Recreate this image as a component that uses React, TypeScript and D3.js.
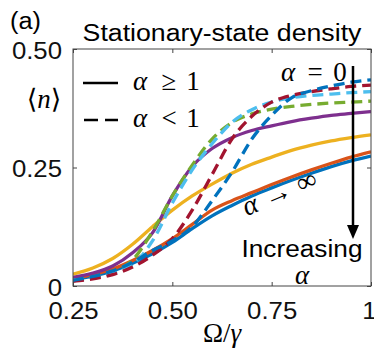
import React, { useEffect, useRef } from "react";
import * as d3 from "d3";

// Omega / gamma sample points
const omega = [0.25, 0.3, 0.35, 0.4, 0.45, 0.5, 0.55, 0.6, 0.65, 0.7, 0.75, 0.8, 0.85, 0.9, 0.95, 1.0];

// alpha >= 1 (solid)
const solidBlue = [0.014, 0.021, 0.032, 0.048, 0.068, 0.092, 0.121, 0.148, 0.17, 0.19, 0.207, 0.223, 0.238, 0.252, 0.264, 0.274];
const solidOrange = [0.016, 0.024, 0.036, 0.054, 0.075, 0.1, 0.13, 0.16, 0.18, 0.197, 0.214, 0.23, 0.245, 0.259, 0.272, 0.283];
const solidYellow = [0.025, 0.038, 0.058, 0.088, 0.125, 0.16, 0.19, 0.215, 0.238, 0.257, 0.272, 0.286, 0.297, 0.306, 0.313, 0.319];
const solidPurple = [0.018, 0.027, 0.042, 0.07, 0.112, 0.19, 0.252, 0.29, 0.313, 0.328, 0.338, 0.347, 0.354, 0.36, 0.364, 0.368];

// alpha < 1 (dashed)
const dashGreen = [0.012, 0.018, 0.03, 0.055, 0.115, 0.19, 0.255, 0.31, 0.345, 0.363, 0.373, 0.379, 0.383, 0.386, 0.388, 0.39];
const dashCyan = [0.012, 0.017, 0.027, 0.045, 0.095, 0.175, 0.245, 0.3, 0.345, 0.372, 0.388, 0.397, 0.402, 0.405, 0.408, 0.41];
const dashRed = [0.01, 0.015, 0.024, 0.04, 0.065, 0.1, 0.16, 0.235, 0.31, 0.358, 0.388, 0.402, 0.41, 0.416, 0.421, 0.424];
const dashBlue = [0.012, 0.02, 0.032, 0.05, 0.075, 0.095, 0.125, 0.18, 0.24, 0.31, 0.36, 0.397, 0.412, 0.422, 0.43, 0.435];

const xTicks = [0.25, 0.5, 0.75, 1];
const xTickLabels = ["0.25", "0.50", "0.75", "1"];
const yTicks = [0, 0.25, 0.5];
const yTickLabels = ["0", "0.25", "0.50"];

const App = () => {
  const ref = useRef<SVGSVGElement>(null);

  useEffect(() => {
    const width = 374;
    const height = 348;
    const marginLeft = 73;
    const marginRight = 3;
    const marginTop = 49;
    const marginBottom = 62;
    const sans = "'Liberation Sans', Arial, sans-serif";
    const serif = "'Liberation Serif', 'DejaVu Serif', serif";

    const svg = d3.select(ref.current);
    svg.selectAll("*").remove();

    const x = d3.scaleLinear().domain([0.25, 1]).range([marginLeft, width - marginRight]);
    const y = d3.scaleLinear().domain([0, 0.5]).range([height - marginBottom, marginTop]);

    // stretch text horizontally, the source font is wider than Arial
    const stretch = (sel: any, k: number) =>
      sel.each(function (this: SVGTextElement) {
        const w = this.getComputedTextLength();
        d3.select(this).attr("textLength", w * k).attr("lengthAdjust", "spacingAndGlyphs");
      });

    svg.append("defs")
      .append("clipPath")
      .attr("id", "plotClip")
      .append("rect")
      .attr("x", marginLeft)
      .attr("y", marginTop)
      .attr("width", width - marginLeft - marginRight)
      .attr("height", height - marginTop - marginBottom);

    const series = [
      { values: solidBlue, color: "#0072BD", dashed: false },
      { values: solidOrange, color: "#D95319", dashed: false },
      { values: solidYellow, color: "#EDB120", dashed: false },
      { values: solidPurple, color: "#7E2F8E", dashed: false },
      { values: dashGreen, color: "#77AC30", dashed: true },
      { values: dashCyan, color: "#4DBEEE", dashed: true },
      { values: dashRed, color: "#A2142F", dashed: true },
      { values: dashBlue, color: "#0072BD", dashed: true },
    ];

    const line = d3
      .line<number>()
      .x((_, i) => x(omega[i]))
      .y((d) => y(d))
      .curve(d3.curveMonotoneX);

    svg
      .append("g")
      .attr("clip-path", "url(#plotClip)")
      .selectAll("path")
      .data(series)
      .join("path")
      .attr("d", (d) => line(d.values))
      .attr("fill", "none")
      .attr("stroke", (d) => d.color)
      .attr("stroke-width", 3.3)
      .attr("stroke-dasharray", (d) => (d.dashed ? "11 6" : null));

    // axes box
    svg
      .append("rect")
      .attr("x", marginLeft)
      .attr("y", marginTop)
      .attr("width", width - marginLeft - marginRight)
      .attr("height", height - marginTop - marginBottom)
      .attr("fill", "none")
      .attr("stroke", "#444")
      .attr("stroke-width", 1);

    const xAxis = svg
      .append("g")
      .attr("transform", `translate(0,${height - marginBottom})`)
      .call(
        d3
          .axisBottom(x)
          .tickValues(xTicks)
          .tickFormat((_, i) => xTickLabels[i])
          .tickSizeInner(-4)
          .tickSizeOuter(0)
          .tickPadding(17)
      );
    xAxis.select(".domain").remove();
    xAxis.selectAll("line").attr("stroke", "#444");
    xAxis.selectAll("text").attr("font-family", sans).attr("font-size", 23).attr("fill", "#111").call(stretch, 1.12);
    // last label sits against the right edge
    xAxis
      .selectAll("text")
      .filter((d) => d === 1)
      .attr("x", -2);

    svg
      .append("g")
      .attr("transform", `translate(0,${marginTop})`)
      .call(d3.axisTop(x).tickValues(xTicks).tickFormat(() => "").tickSizeInner(-4).tickSizeOuter(0))
      .call((g) => g.select(".domain").remove())
      .selectAll("line")
      .attr("stroke", "#444");

    const yAxis = svg
      .append("g")
      .attr("transform", `translate(${marginLeft},0)`)
      .call(
        d3
          .axisLeft(y)
          .tickValues(yTicks)
          .tickFormat((_, i) => yTickLabels[i])
          .tickSizeInner(-4)
          .tickSizeOuter(0)
          .tickPadding(11)
      );
    yAxis.select(".domain").remove();
    yAxis.selectAll("line").attr("stroke", "#444");
    yAxis.selectAll("text").attr("font-family", sans).attr("font-size", 23).attr("fill", "#111").attr("dy", "0.4em").call(stretch, 1.12);

    svg
      .append("g")
      .attr("transform", `translate(${width - marginRight},0)`)
      .call(d3.axisRight(y).tickValues(yTicks).tickFormat(() => "").tickSizeInner(-4).tickSizeOuter(0))
      .call((g) => g.select(".domain").remove())
      .selectAll("line")
      .attr("stroke", "#444");

    // titles
    svg
      .append("text")
      .attr("x", 10)
      .attr("y", 29)
      .attr("font-family", sans)
      .attr("font-size", 23)
      .text("(a)")
      .call(stretch, 1.1);

    svg
      .append("text")
      .attr("x", 222)
      .attr("y", 41)
      .attr("text-anchor", "middle")
      .attr("font-family", sans)
      .attr("font-size", 23)
      .text("Stationary-state density")
      .call(stretch, 1.16);

    // y label <n>
    const yl = svg
      .append("text")
      .attr("x", 44)
      .attr("y", 108)
      .attr("text-anchor", "middle")
      .attr("font-family", serif)
      .attr("font-size", 27);
    yl.append("tspan").text("\u27E8");
    yl.append("tspan").attr("font-style", "italic").text("n");
    yl.append("tspan").text("\u27E9");

    // x label Omega/gamma
    const xl = svg
      .append("text")
      .attr("x", 222)
      .attr("y", 342)
      .attr("text-anchor", "middle")
      .attr("font-family", serif)
      .attr("font-size", 27);
    xl.append("tspan").text("\u03A9/");
    xl.append("tspan").attr("font-style", "italic").text("\u03B3");

    // math pieces placed by centre
    const math = (cx: number, by: number, s: string, italic: boolean) =>
      svg
        .append("text")
        .attr("x", cx)
        .attr("y", by)
        .attr("text-anchor", "middle")
        .attr("font-family", serif)
        .attr("font-size", 27)
        .attr("font-style", italic ? "italic" : "normal")
        .text(s);

    // legend
    svg.append("line").attr("x1", 83).attr("x2", 118).attr("y1", 83).attr("y2", 83).attr("stroke", "#000").attr("stroke-width", 2.5);
    svg
      .append("line")
      .attr("x1", 84)
      .attr("x2", 118)
      .attr("y1", 120)
      .attr("y2", 120)
      .attr("stroke", "#000")
      .attr("stroke-width", 2.5)
      .attr("stroke-dasharray", "14 7");
    math(140, 90, "\u03B1", true);
    math(169, 90, "\u2265", false);
    math(193, 90, "1", false);
    math(140, 127, "\u03B1", true);
    math(169, 127, "<", false);
    math(193, 127, "1", false);

    // alpha = 0 and arrow
    math(288, 81, "\u03B1", true);
    math(315, 81, "=", false);
    math(340, 81, "0", false);
    svg.append("line").attr("x1", 353).attr("x2", 353).attr("y1", 66).attr("y2", 228).attr("stroke", "#000").attr("stroke-width", 2.5);
    svg.append("path").attr("d", "M347,225 L359,225 L353,239 Z").attr("fill", "#000");

    svg
      .append("text")
      .attr("x", 302)
      .attr("y", 257)
      .attr("text-anchor", "middle")
      .attr("font-family", sans)
      .attr("font-size", 23)
      .text("Increasing")
      .call(stretch, 1.14);
    math(302, 284, "\u03B1", true);

    // alpha -> infinity along the curve
    const inf = svg
      .append("text")
      .attr("transform", "translate(283,201) rotate(-23)")
      .attr("text-anchor", "middle")
      .attr("font-family", serif)
      .attr("font-size", 28);
    inf.append("tspan").attr("font-style", "italic").text("\u03B1");
    inf.append("tspan").attr("dx", 8).text("\u2192");
    inf.append("tspan").attr("dx", 8).text("\u221E");
  }, []);

  return (
    <svg
      ref={ref}
      width={374}
      height={348}
      style={{ position: "absolute", left: 0, top: 0, background: "#fff" }}
    />
  );
};

export default App;
